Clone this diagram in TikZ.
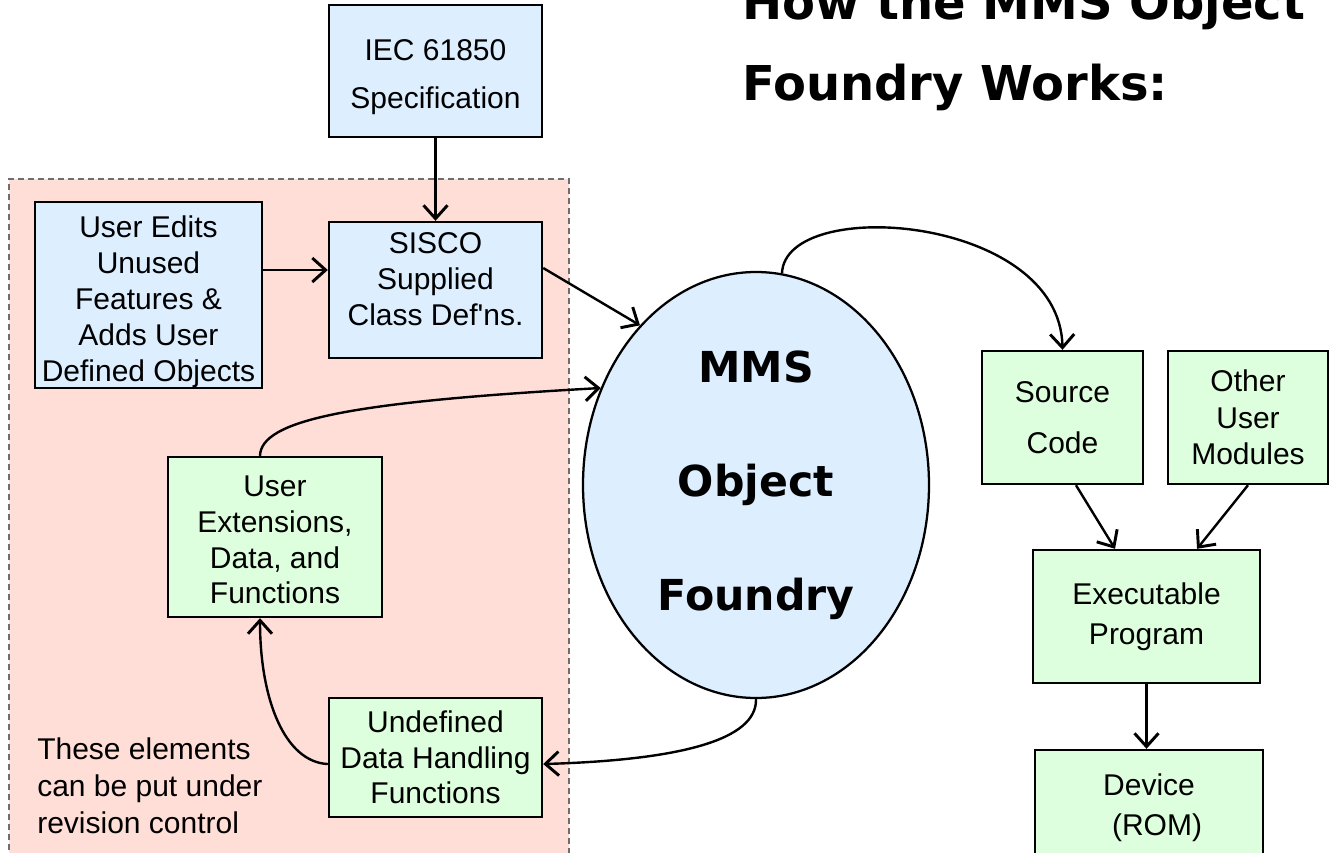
\documentclass[tikz,border=0pt]{standalone}
\usepackage{fontspec}
\setmainfont{Liberation Sans}
\newfontfamily\headfont{DejaVu Sans}
\usetikzlibrary{arrows.meta,shapes.geometric}
\definecolor{boxblue}{RGB}{221,238,255}
\definecolor{boxgreen}{RGB}{221,255,221}
\definecolor{zonepink}{RGB}{255,222,216}
\definecolor{zoneline}{RGB}{110,110,110}
\begin{document}
\begin{tikzpicture}[x=0.75pt,y=-0.75pt,
  box/.style={draw, line width=1.8pt, rectangle, inner sep=0pt, align=center,
    font=\fontsize{22.5}{27.5}\selectfont},
  bluebox/.style={box, fill=boxblue},
  greenbox/.style={box, fill=boxgreen},
  conn/.style={line width=1.8pt, -{Straight Barb[length=10pt,width=18pt,line width=2.2pt]}},
  titletext/.style={anchor=base west, inner sep=0pt, font=\headfont\bfseries\fontsize{36}{43}\selectfont}
]
\useasboundingbox (0,0) rectangle (1329,853);
% revision-control zone
\fill[zonepink] (9,179) rectangle (569,870);
\draw[zoneline, line width=1pt, dash pattern=on 4.5pt off 3pt] (9,870) -- (9,179) -- (569,179) -- (569,870);

% title
\node[titletext] (t1) at (742,20) {How the MMS Object};
\node[titletext] (t2) at (742,100) {Foundry Works:};

% boxes
\node[bluebox, minimum width=159.75pt, minimum height=99pt, font=\fontsize{22.5}{36}\selectfont] (iec) at (435.5,71) {\rule{0pt}{25.5pt}IEC 61850\\Specification};
\node[bluebox, minimum width=159.75pt, minimum height=102pt, font=\fontsize{22.5}{27.3}\selectfont] (sisco) at (435.5,290) {SISCO\\Supplied\\Class Def\textquotesingle ns.\rule[-16.5pt]{0pt}{16.5pt}};
\node[bluebox, minimum width=170.25pt, minimum height=135pt, font=\fontsize{22.5}{27}\selectfont] (ue) at (148.5,295) {\rule{0pt}{27pt}User Edits\\Unused\\Features \&\\Adds User\\Defined Objects};
\node[greenbox, minimum width=160.5pt, minimum height=120pt, font=\fontsize{22.5}{26.8}\selectfont] (ux) at (275,537) {\rule{0pt}{20pt}User\\Extensions,\\Data, and\\Functions};
\node[greenbox, minimum width=159.75pt, minimum height=89.25pt, font=\fontsize{22.5}{26.6}\selectfont] (und) at (435.5,757.5) {Undefined\\Data Handling\\Functions};
\node[greenbox, minimum width=120.75pt, minimum height=99.75pt, font=\fontsize{22.5}{38}\selectfont] (src) at (1062.5,417.5) {Source\\Code};
\node[greenbox, minimum width=120pt, minimum height=99.75pt] (oth) at (1248,417.5) {Other\\User\\Modules};
\node[greenbox, minimum width=170.25pt, minimum height=99.75pt, font=\fontsize{22.5}{30}\selectfont] (exe) at (1146.5,616.5) {Executable\\Program};
\node[greenbox, minimum width=171pt, minimum height=82.5pt, font=\fontsize{22.5}{30}\selectfont] (dev) at (1149,805) {\rule{0pt}{20pt}Device\\\hspace*{12pt}(ROM)};

% note
\node[anchor=west, align=left, inner sep=0pt, font=\fontsize{22.5}{27.75}\selectfont] (note) at (37,786) {These elements\\can be put under\\revision control};

% ellipse
\node[ellipse, draw, line width=1.7pt, fill=boxblue, inner sep=0pt, minimum width=259.5pt, minimum height=319.5pt, align=center, font=\headfont\bfseries\fontsize{32}{85.5}\selectfont] (ell) at (756,485) {MMS\\Object\\Foundry};

% connectors
\draw[conn] (iec) -- (sisco);
\draw[conn] ([yshift=18.75pt]ue.east) -- ([yshift=15pt]sisco.west);
\draw[conn] ([yshift=16.5pt]sisco.east) -- (ell.126);
\draw[conn] ([xshift=-11.25pt]ux.north) .. controls (261,420) and (350,402) .. (ell.148);
\draw[conn] (ell.83) .. controls (785,195) and (1060,215) .. (src.north);
\draw[conn] (ell.270) .. controls (757,740) and (680,760) .. ([yshift=-4.9pt]und.east);
\draw[conn] ([yshift=-4.9pt]und.west) .. controls (285,762) and (260,700) .. ([xshift=-11.25pt]ux.south);
\draw[conn] ([xshift=10.1pt]src.south) -- ([xshift=-23.6pt]exe.north);
\draw[conn] (oth.south) -- ([xshift=37.9pt]exe.north);
\draw[conn] (exe.south) -- (exe.south |- dev.north);
\end{tikzpicture}
\end{document}
